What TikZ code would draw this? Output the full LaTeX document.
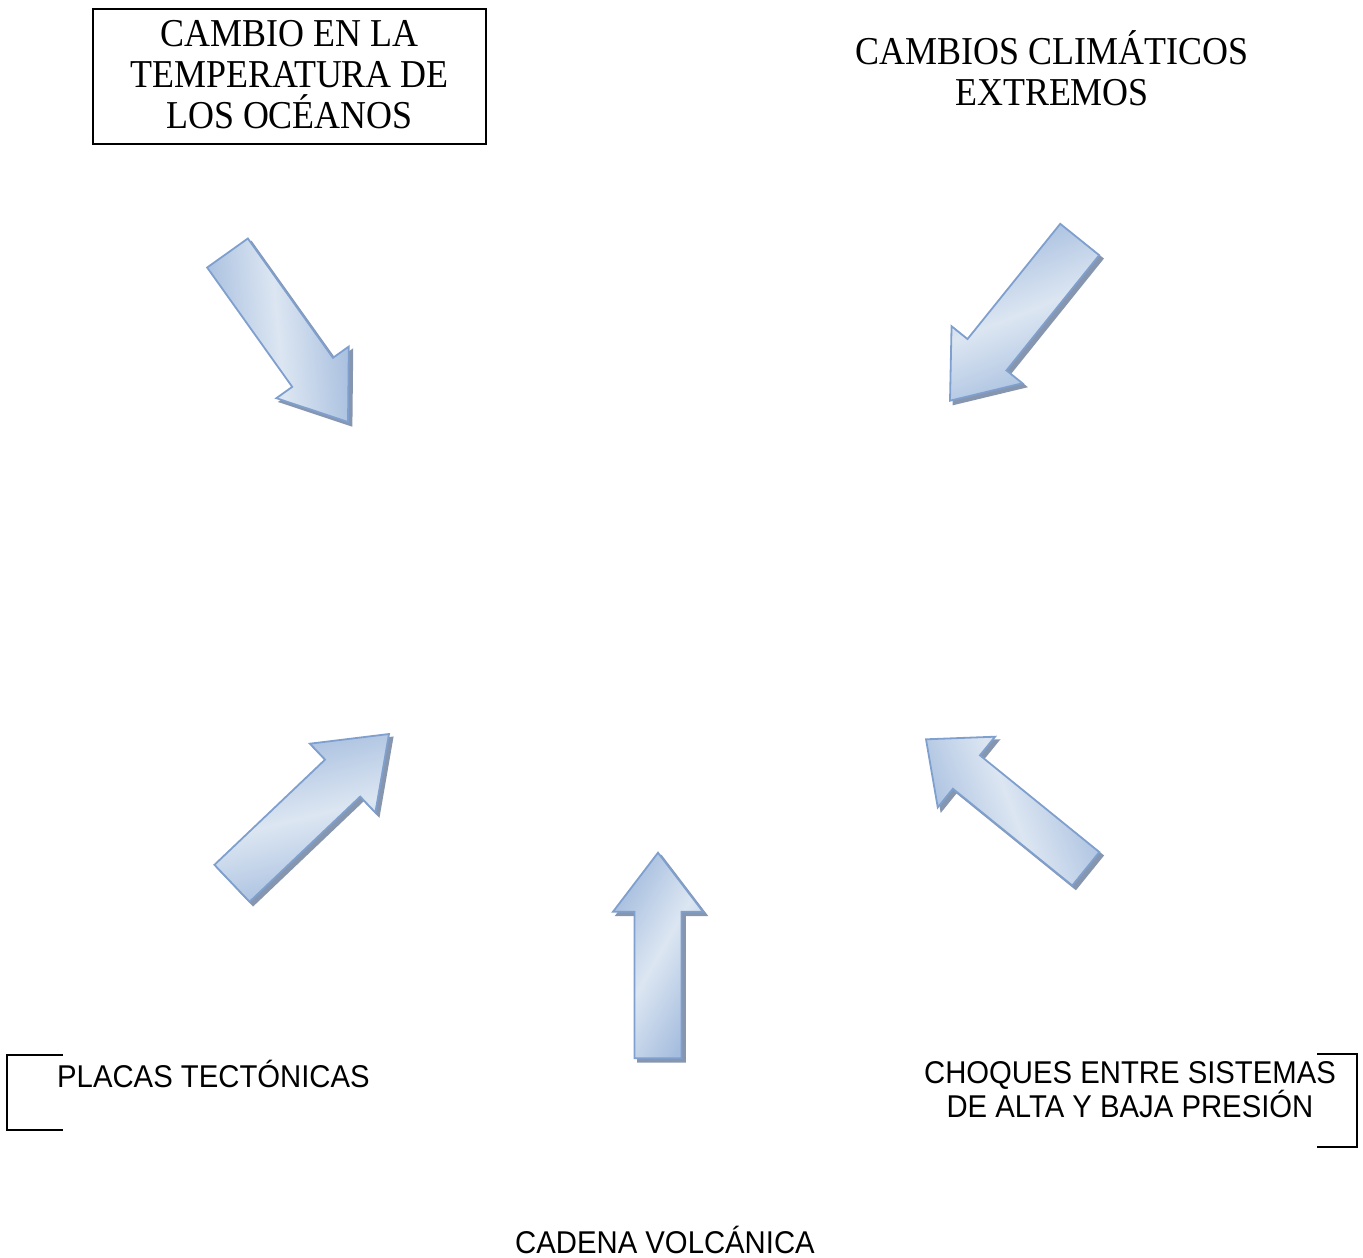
\documentclass[tikz,border=0pt]{standalone}
\usepackage{fontspec}
\setmainfont{Liberation Serif}
\setsansfont{Liberation Sans}
\newfontfamily\tallserif[FakeStretch=0.91]{Liberation Serif}
\newfontfamily\tallsans[FakeStretch=0.93]{Liberation Sans}
\usetikzlibrary{calc}
\definecolor{arrline}{HTML}{7FA0CE}
\definecolor{arrdark}{HTML}{A5BDDE}
\definecolor{arrlight}{HTML}{DCE6F2}
\definecolor{arrshadow}{HTML}{8796AF}
\tikzset{
  arrbody/.style={draw=arrline, line width=1.8pt, line join=miter,
    left color=arrdark, right color=arrdark, middle color=arrlight},
  arrshade/.style={fill=arrshadow, draw=arrshadow, line width=1.8pt,
    transform canvas={shift={(3.5pt,-3.5pt)}}},
  serifbig/.style={font=\tallserif\fontsize{39.5}{41}\selectfont, align=center, inner sep=0pt},
  sanstext/.style={font=\tallsans\fontsize{31.5}{32}\selectfont, align=center, inner sep=0pt},
  bracketline/.style={draw=black, line width=1.3pt},
}
% name, tail, tip, half shaft width, half head width, head length, shading angle
\newcommand\blockarrow[7]{%
  \coordinate (#1t) at (#2);
  \coordinate (#1p) at (#3);
  \coordinate (#1b) at ($(#1p)!#6pt!(#1t)$);
  \coordinate (#1h1) at ($(#1b)!#5pt!90:(#1p)$);
  \coordinate (#1h2) at ($(#1b)!#5pt!-90:(#1p)$);
  \coordinate (#1s1) at ($(#1b)!#4pt!90:(#1p)$);
  \coordinate (#1s2) at ($(#1b)!#4pt!-90:(#1p)$);
  \coordinate (#1e1) at ($(#1t)!#4pt!90:(#1p)$);
  \coordinate (#1e2) at ($(#1t)!#4pt!-90:(#1p)$);
  \path[arrshade] (#1p) -- (#1h1) -- (#1s1) -- (#1e1) -- (#1e2) -- (#1s2) -- (#1h2) -- cycle;
  \path[arrbody, shading angle=#7] (#1p) -- (#1h1) -- (#1s1) -- (#1e1) -- (#1e2) -- (#1s2) -- (#1h2) -- cycle;
}
\begin{document}
\begin{tikzpicture}[x=1pt,y=-1pt]
\useasboundingbox (0,0) rectangle (1363,1258);

% top-left boxed title
\node[draw=black, line width=1.3pt, minimum width=393pt, minimum height=135pt, inner sep=0pt]
  (ocebox) at (289.5,76.5) {};
\node[serifbig, anchor=base] (oce) at (289.5,128.7) {CAMBIO EN LA\\TEMPERATURA DE\\LOS OCÉANOS};

% top-right title
\node[serifbig, anchor=base] (clim) at (1052,105.5) {CAMBIOS CLIMÁTICOS\\EXTREMOS};

% arrows
\blockarrow{a1}{227.5,253}{348,422}{25}{44.5}{61}{-84.5}
\blockarrow{a2}{1079.7,239.5}{950,400.7}{25}{45.5}{59}{-158.8}
\blockarrow{a3}{232,883.3}{389,734}{25.5}{47.5}{64}{13.6}
\blockarrow{a4}{1085.8,868.8}{926,739.3}{21.5}{45.5}{52}{111}
\blockarrow{a5}{658,1058.3}{658,852.7}{23.5}{45}{59}{60}

% brackets
\draw[bracketline] (63,1055) -- (7,1055) -- (7,1130) -- (63,1130);
\draw[bracketline] (1317,1054) -- (1357,1054) -- (1357,1147) -- (1317,1147);

% bottom labels
\node[sanstext, anchor=base west] (placas) at (57,1087) {PLACAS TECTÓNICAS};
\node[sanstext, anchor=base] (choques) at (1130,1117.5) {CHOQUES ENTRE SISTEMAS\\DE ALTA Y BAJA PRESIÓN};
\node[sanstext, anchor=base] (cadena) at (665,1253) {CADENA VOLCÁNICA};
\end{tikzpicture}
\end{document}
